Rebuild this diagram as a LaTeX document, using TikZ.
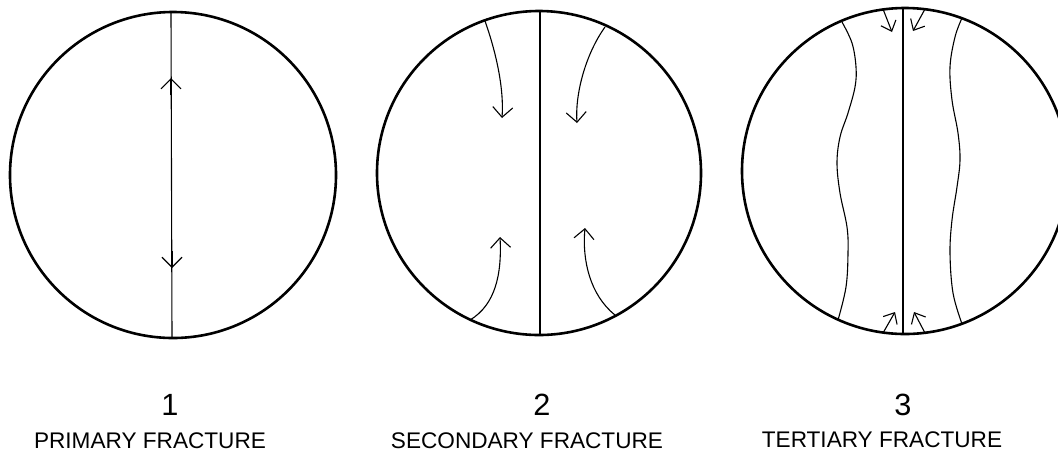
\documentclass[tikz,border=0pt]{standalone}
\usepackage{fontspec}
\setmainfont{Liberation Sans}
\usetikzlibrary{arrows.meta}
\tikzset{
  rim/.style={line width=2.6pt},
  crack/.style={line width=1.1pt},
  barb/.style={crack,-{Straight Barb[length=10pt,width=20pt]}},
  smallbarb/.style={crack,-{Straight Barb[length=9pt,width=16pt]}},
  numlabel/.style={anchor=base,inner sep=0pt,font=\fontsize{30.7}{34}\selectfont},
  namelabel/.style={anchor=base,inner sep=0pt,font=\fontsize{22.6}{27}\selectfont}
}
\begin{document}
\begin{tikzpicture}[x=1pt,y=-1pt]
\useasboundingbox (0,0) rectangle (1058,451);
\clip (0,0) rectangle (1058,451);
\fill[white] (0,0) rectangle (1058,451);

% ---------- circle 1 ----------
\coordinate (c1) at (173,175);
\coordinate (t1) at (171,12);
\coordinate (b1) at (172,338);
\coordinate (a1u) at (171,78);
\coordinate (a1us) at (171,95);
\coordinate (a1d) at (172,268);
\coordinate (a1ds) at (172,251);
\draw[rim] (c1) circle[radius=163];
\draw[crack] (t1) -- (b1);
\draw[barb] (a1us) -- (a1u);
\draw[barb] (a1ds) -- (a1d);

% ---------- circle 2 ----------
\coordinate (c2) at (539,173);
\coordinate (t2) at (540,11);
\coordinate (b2) at (540,335);
\draw[rim] (c2) circle[radius=162];
\draw[crack] (t2) -- (b2);
\coordinate (s2a) at (485,21);  \coordinate (e2a) at (502,118);
\coordinate (s2b) at (605,27);  \coordinate (e2b) at (577,123);
\coordinate (s2c) at (470,320); \coordinate (e2c) at (500,237);
\coordinate (s2d) at (615,315); \coordinate (e2d) at (585,228);
\draw[barb] (s2a) .. controls (497,55) and (504,90) .. (e2a);
\draw[barb] (s2b) .. controls (585,55) and (575,95) .. (e2b);
\draw[barb] (s2c) .. controls (495,305) and (502,275) .. (e2c);
\draw[barb] (s2d) .. controls (590,295) and (582,260) .. (e2d);

% ---------- circle 3 ----------
\coordinate (c3) at (905,171);
\coordinate (t3) at (903,8);
\coordinate (b3) at (903,334);
\draw[rim] (c3) circle[radius=163];
\draw[crack] (t3) -- (b3);
\draw[crack] plot[smooth,tension=0.6] coordinates {(842,22) (852,43) (856,67) (855,87) (848,113) (840,137) (837,163) (840,193) (847,227) (848,253) (846,287) (838,320)};
\draw[crack] plot[smooth,tension=0.6] coordinates {(962,18) (955,37) (950,67) (952,100) (958,133) (960,160) (957,187) (952,220) (950,253) (953,293) (962,324)};
\coordinate (s3a) at (883,9);   \coordinate (e3a) at (892,32);
\coordinate (s3b) at (925,9);   \coordinate (e3b) at (913,31);
\coordinate (s3c) at (883,333); \coordinate (e3c) at (895,312);
\coordinate (s3d) at (925,333); \coordinate (e3d) at (914,312);
\draw[smallbarb] (s3a) -- (e3a);
\draw[smallbarb] (s3b) -- (e3b);
\draw[smallbarb] (s3c) -- (e3c);
\draw[smallbarb] (s3d) -- (e3d);

% ---------- labels ----------
\node[numlabel] (n1) at (170,415) {1};
\node[numlabel] (n2) at (542,415) {2};
\node[numlabel] (n3) at (903,415) {3};
\node[namelabel] (l1) at (150,448) {PRIMARY FRACTURE};
\node[namelabel] (l2) at (527,448) {SECONDARY FRACTURE};
\node[namelabel] (l3) at (882,447) {TERTIARY FRACTURE};
\end{tikzpicture}
\end{document}
